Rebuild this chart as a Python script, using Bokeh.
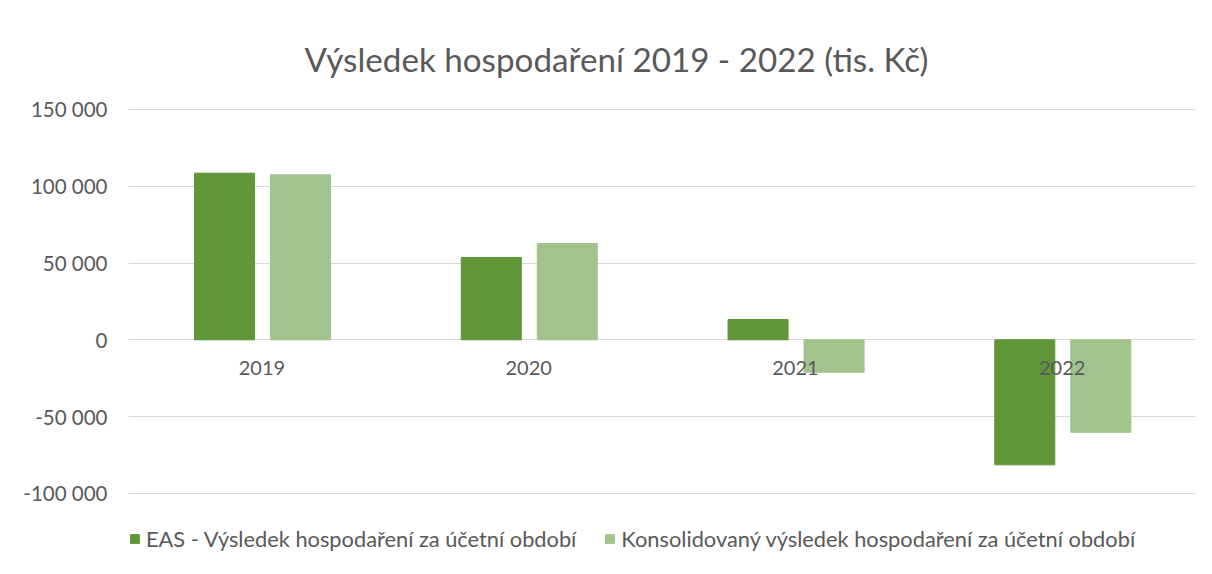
from bokeh.plotting import figure
from bokeh.models import FixedTicker, Legend, LegendItem, ColumnDataSource, Label
from bokeh.transform import dodge
from bokeh.core.properties import value
from bokeh.embed import file_html
from bokeh.resources import INLINE

years = ["2019", "2020", "2021", "2022"]
eas = [108500, 53600, 13200, -81400]
kons = [107400, 62700, -21100, -60200]
y_ticks = [-100000, -50000, 0, 50000, 100000, 150000]
y_tick_labels = ["-100 000", "-50 000", "0", "50 000", "100 000", "150 000"]
title_text = "Výsledek hospodaření 2019 - 2022 (tis. Kč)"
series_names = ["EAS - Výsledek hospodaření za účetní období",
                "Konsolidovaný výsledek hospodaření za účetní období"]

FONT = "Lato"
TXT = "#595959"
C1 = "#5E9638"
C2 = "#A0C48C"

src = ColumnDataSource(dict(year=years, eas=eas, kons=kons, zero=[0] * len(years)))

p = figure(x_range=years, y_range=(-152800, 220900), width=1212, height=574,
           output_backend="svg", toolbar_location=None,
           min_border_left=128, min_border_right=17, min_border_top=0, min_border_bottom=0)

r1 = p.vbar(x=dodge("year", -0.14, range=p.x_range), top="eas", width=0.225, source=src,
            fill_color=C1, line_color=C1)
r2 = p.vbar(x=dodge("year", 0.145, range=p.x_range), top="kons", width=0.225, source=src,
            fill_color=C2, line_color=C2)

p.text(x="year", y="zero", text="year", source=src, y_offset=28,
       text_align="center", text_baseline="middle", text_font=value(FONT),
       text_font_size="20px", text_color=TXT)

p.add_layout(Label(x=488, y=516, x_units="screen", y_units="screen", text=title_text,
                   text_align="center", text_baseline="middle", text_font=FONT,
                   text_font_size="33.2px", text_color=TXT))

p.xaxis.visible = False
p.xgrid.grid_line_color = None
p.ygrid.grid_line_color = "#D9D9D9"
p.ygrid.grid_line_width = 1
p.yaxis.ticker = FixedTicker(ticks=y_ticks)
p.yaxis.major_label_overrides = dict(zip(y_ticks, y_tick_labels))
p.yaxis.axis_line_color = None
p.yaxis.major_tick_line_color = None
p.yaxis.minor_tick_line_color = None
p.yaxis.major_tick_out = 0
p.yaxis.major_tick_in = 0
p.yaxis.major_label_text_font = FONT
p.yaxis.major_label_text_font_size = "20.5px"
p.yaxis.major_label_text_color = TXT
p.yaxis.major_label_standoff = 21
p.outline_line_color = None

legend = Legend(items=[LegendItem(label=series_names[0], renderers=[r1]),
                       LegendItem(label=series_names[1], renderers=[r2])],
                orientation="horizontal", location=(1, 22),
                label_text_font=FONT, label_text_font_size="21.8px", label_text_color=TXT,
                glyph_width=11, glyph_height=11, spacing=28, label_standoff=6,
                padding=0, margin=0,
                border_line_color=None, background_fill_alpha=0)
p.add_layout(legend, "center")

open("out.html", "w").write(file_html(p, INLINE))
